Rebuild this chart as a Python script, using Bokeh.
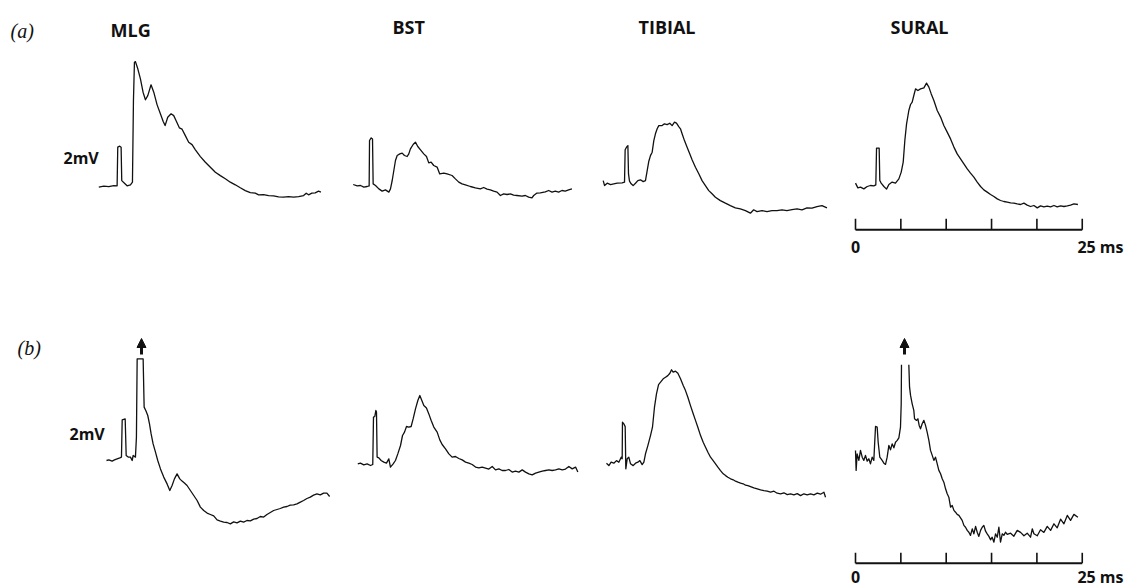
from bokeh.plotting import figure
from bokeh.layouts import column, row
from bokeh.models import Arrow, NormalHead
from bokeh.embed import file_html
from bokeh.resources import INLINE
from bokeh.core.properties import value

NAN = float("nan")

# ---------------- data (time in ms, potential in mV) ----------------
NERVES = ["MLG", "BST", "TIBIAL", "SURAL"]
ROW_LABELS = ["(a)", "(b)"]
CAL_LABEL = "2mV"
SCALE_TICKS_MS = [0, 5, 10, 15, 20, 25]
SCALE_TEXT = ["0", "25 ms"]

A_MLG = [(0, 0), (0.55, 0.05), (1.10, 0.03), (1.65, 0.08), (2.02, 0.07), (2.09, 2.0), (2.31, 2.05), (2.46, 2.0),
         (2.53, 0.33), (2.83, 0.2), (3.12, 0.07), (3.49, 0.12), (3.71, 0.25), (3.82, 4.33), (3.93, 6.25), (4.04, 6.28),
         (4.30, 5.92), (4.59, 5.42), (4.88, 4.75), (5.14, 4.37), (5.40, 4.58), (5.76, 5.12), (6.06, 4.75), (6.42, 4.13),
         (6.79, 3.67), (7.09, 3.30), (7.31, 3.08), (7.60, 3.5), (7.97, 3.67), (8.26, 3.58), (8.55, 3.30), (8.88, 2.97),
         (9.18, 2.9), (9.54, 2.58), (9.91, 2.25), (10.28, 2.13), (10.65, 1.87), (11.20, 1.53), (11.75, 1.25),
         (12.30, 1.0), (12.85, 0.75), (13.40, 0.58), (13.95, 0.42), (14.50, 0.25), (15.05, 0.12), (15.60, -0.03),
         (16.15, -0.17), (16.70, -0.27), (17.25, -0.30), (17.62, -0.38), (18.17, -0.37), (18.72, -0.42),
         (19.27, -0.43), (19.82, -0.48), (20.37, -0.5), (20.92, -0.47), (21.48, -0.5), (22.03, -0.47),
         (22.58, -0.42), (22.87, -0.30), (23.13, -0.38), (23.49, -0.30), (23.86, -0.28), (24.23, -0.2), (24.49, -0.25)]

A_BST = [(0, 0.05), (0.44, -0.02), (0.81, 0), (1.17, -0.08), (1.54, -0.05), (1.76, -0.02), (1.80, 2.25), (1.98, 2.38),
         (2.13, 2.33), (2.20, 0.08), (2.46, 0), (2.83, -0.17), (3.19, -0.28), (3.56, -0.22), (3.93, -0.33),
         (4.11, -0.17), (4.30, 0.25), (4.48, 0.75), (4.66, 1.25), (4.85, 1.5), (5.14, 1.58), (5.40, 1.62),
         (5.65, 1.5), (5.95, 1.45), (6.13, 1.58), (6.31, 1.83), (6.61, 2.05), (6.86, 2.17), (7.12, 1.95),
         (7.42, 1.78), (7.78, 1.58), (8.08, 1.45), (8.33, 1.13), (8.59, 1.17), (8.88, 1.0), (9.25, 0.92),
         (9.54, 0.58), (9.99, 0.62), (10.35, 0.58), (10.90, 0.5), (11.27, 0.33), (11.64, 0.17), (12.00, 0.08),
         (12.37, 0.03), (12.92, -0.05), (13.47, -0.12), (14.02, -0.17), (14.39, -0.1), (14.76, -0.18),
         (15.12, -0.22), (15.49, -0.28), (15.86, -0.33), (16.23, -0.5), (16.59, -0.42), (16.96, -0.45),
         (17.33, -0.42), (17.69, -0.48), (18.06, -0.5), (18.61, -0.53), (18.98, -0.5), (19.35, -0.58),
         (19.71, -0.62), (19.90, -0.5), (20.26, -0.38), (20.63, -0.37), (21.18, -0.32), (21.55, -0.25),
         (21.92, -0.33), (22.28, -0.28), (22.65, -0.33), (23.02, -0.25), (23.38, -0.28), (23.75, -0.22),
         (24.12, -0.17)]

A_TIB = [(0, 0.13), (0.15, -0.12), (0.44, 0), (0.81, -0.07), (1.17, -0.03), (1.54, 0), (2.09, 0.02), (2.35, 0.05),
         (2.42, 1.67), (2.57, 1.8), (2.72, 1.88), (2.79, 0.47), (2.90, 0.1), (3.08, -0.03), (3.30, -0.12), (3.56, 0),
         (3.82, 0.13), (4.11, 0.17), (4.41, 0.08), (4.66, 0.13), (4.85, 0.63), (5.03, 1.1), (5.21, 1.38),
         (5.40, 1.55), (5.58, 2.13), (5.76, 2.47), (5.95, 2.72), (6.13, 2.88), (6.50, 2.88), (6.75, 2.97),
         (7.05, 2.93), (7.34, 3.0), (7.60, 2.88), (7.86, 3.05), (8.08, 3.0), (8.33, 2.83), (8.52, 2.72),
         (8.70, 2.47), (8.96, 2.13), (9.25, 1.8), (9.54, 1.47), (9.80, 1.17), (10.17, 0.8), (10.54, 0.47),
         (10.90, 0.13), (11.27, -0.12), (11.64, -0.37), (12.00, -0.53), (12.37, -0.7), (12.92, -0.87),
         (13.47, -1.0), (14.02, -1.12), (14.57, -1.23), (15.12, -1.28), (15.68, -1.37), (16.23, -1.5),
         (16.59, -1.33), (16.96, -1.42), (17.51, -1.37), (18.06, -1.42), (18.61, -1.37), (19.16, -1.37),
         (19.71, -1.33), (20.26, -1.37), (20.81, -1.32), (21.37, -1.28), (21.92, -1.33), (22.47, -1.23),
         (23.02, -1.25), (23.57, -1.17), (24.12, -1.12), (24.67, -1.23)]

A_SUR = [(0, 0.12), (0.26, -0.12), (0.55, -0.08), (0.92, -0.17), (1.29, -0.05), (1.65, 0), (2.02, -0.02),
         (2.24, 0.03), (2.32, 1.87), (2.61, 1.87), (2.68, 0.25), (2.83, 0.12), (3.13, -0.05), (3.42, -0.18),
         (3.68, 0.05), (4.04, 0.17), (4.41, 0.12), (4.78, 0.33), (5.04, 0.67), (5.26, 1.17), (5.44, 2.25),
         (5.63, 3.08), (5.88, 3.75), (6.07, 4.05), (6.25, 4.17), (6.43, 4.5), (6.62, 4.83), (6.88, 4.75),
         (7.17, 4.83), (7.54, 4.88), (7.83, 5.12), (8.09, 4.92), (8.35, 4.58), (8.64, 4.25), (9.01, 3.75),
         (9.38, 3.42), (9.74, 3.0), (10.11, 2.67), (10.48, 2.33), (10.85, 1.92), (11.21, 1.58), (11.58, 1.33),
         (11.95, 1.08), (12.32, 0.83), (12.68, 0.62), (13.05, 0.42), (13.42, 0.17), (13.79, -0.05),
         (14.15, -0.22), (14.52, -0.33), (14.89, -0.45), (15.26, -0.55), (15.63, -0.67), (15.99, -0.75),
         (16.36, -0.8), (16.73, -0.83), (17.10, -0.87), (17.46, -0.88), (17.83, -0.92), (18.20, -0.95),
         (18.57, -0.88), (18.93, -0.98), (19.30, -1.05), (19.67, -1.0), (20.04, -1.12), (20.40, -1.02),
         (20.77, -1.07), (21.14, -1.03), (21.51, -1.07), (21.88, -1.0), (22.24, -1.07), (22.61, -1.02),
         (22.98, -1.05), (23.35, -1.02), (23.71, -0.98), (24.08, -0.92), (24.52, -0.95)]

B_MLG = [(0, 0), (0.26, 0.03), (0.62, -0.03), (0.88, 0.03), (1.17, 0.08), (1.47, 0.13), (1.65, 0.17), (1.73, 2.03),
         (2.06, 2.08), (2.17, 0.25), (2.39, 0.17), (2.64, 0.17), (2.83, 0), (2.94, 0.25), (3.19, 0.17), (3.30, 1.17),
         (3.38, 5.08), (4.04, 5.08), (4.15, 2.67), (4.33, 2.5), (4.55, 2.25), (4.74, 1.83), (4.92, 1.33),
         (5.14, 0.83), (5.40, 0.42), (5.65, 0), (5.95, -0.42), (6.31, -0.83), (6.68, -1.17), (6.98, -1.5),
         (7.23, -1.25), (7.49, -0.92), (7.78, -0.67), (8.08, -0.92), (8.33, -1.03), (8.59, -1.13), (8.88, -1.25),
         (9.25, -1.5), (9.62, -1.75), (9.99, -2.0), (10.35, -2.33), (10.72, -2.5), (11.09, -2.63), (11.45, -2.7),
         (11.82, -2.77), (12.19, -2.97), (12.56, -3.03), (12.92, -3.08), (13.29, -3.1), (13.66, -3.17),
         (14.02, -3.07), (14.39, -3.12), (14.76, -3.03), (15.12, -3.08), (15.49, -3.0), (15.86, -3.02),
         (16.23, -2.93), (16.59, -2.9), (16.96, -2.8), (17.33, -2.83), (17.69, -2.7), (18.06, -2.6),
         (18.43, -2.5), (18.80, -2.45), (19.16, -2.4), (19.53, -2.33), (19.90, -2.3), (20.26, -2.23),
         (20.63, -2.22), (21.00, -2.17), (21.37, -2.08), (21.73, -2.0), (22.10, -1.9), (22.47, -1.83),
         (22.83, -1.73), (23.20, -1.67), (23.57, -1.72), (23.94, -1.63), (24.30, -1.63), (24.60, -1.8)]

B_BST = [(0, 0.03), (0.29, 0.07), (0.66, -0.02), (1.03, 0.03), (1.40, -0.05), (1.65, 0), (1.73, 2.37), (1.87, 2.4),
         (1.99, 2.7), (2.06, 2.62), (2.13, 0.37), (2.32, 0.33), (2.57, 0.2), (2.87, 0.12), (3.16, 0.07),
         (3.42, 0.28), (3.60, -0.13), (3.90, 0.03), (4.15, 0.2), (4.41, 0.53), (4.71, 0.95), (4.93, 1.45),
         (5.15, 1.62), (5.37, 1.9), (5.62, 1.87), (5.88, 1.9), (6.10, 2.28), (6.36, 2.78), (6.62, 3.2), (6.84, 3.45),
         (7.06, 3.2), (7.28, 2.95), (7.57, 2.83), (7.83, 2.53), (8.09, 2.2), (8.38, 1.87), (8.75, 1.62),
         (9.04, 1.23), (9.30, 1.0), (9.67, 0.78), (10.04, 0.53), (10.40, 0.37), (10.77, 0.4), (11.14, 0.3),
         (11.51, 0.23), (11.88, 0.12), (12.24, 0.07), (12.61, 0), (12.98, -0.13), (13.35, -0.17), (13.71, -0.13),
         (14.08, -0.18), (14.45, -0.23), (14.82, -0.1), (15.18, -0.27), (15.55, -0.22), (15.92, -0.3),
         (16.29, -0.3), (16.65, -0.25), (17.02, -0.38), (17.39, -0.33), (17.76, -0.38), (18.13, -0.27),
         (18.49, -0.38), (18.86, -0.47), (19.23, -0.52), (19.60, -0.43), (19.96, -0.38), (20.33, -0.33),
         (20.70, -0.3), (21.07, -0.27), (21.43, -0.3), (21.80, -0.27), (22.17, -0.22), (22.54, -0.27),
         (22.90, -0.23), (23.27, -0.1), (23.64, -0.22), (24.01, -0.13), (24.26, -0.38)]

B_TIB = [(0, 0), (0.26, -0.12), (0.51, 0.05), (0.81, 0), (1.10, 0.13), (1.36, 0.05), (1.62, 0.3), (1.73, 0.22),
         (1.76, 2.05), (1.91, 1.97), (2.06, 1.83), (2.13, -0.28), (2.28, 0.22), (2.46, 0.3), (2.65, -0.03),
         (2.94, -0.12), (3.20, 0), (3.46, 0.05), (3.68, 0.13), (3.93, -0.07), (4.12, 0.05), (4.30, 0.47),
         (4.56, 0.88), (4.85, 1.38), (5.07, 1.8), (5.29, 2.8), (5.51, 3.47), (5.74, 3.93), (5.96, 4.05),
         (6.25, 4.22), (6.51, 4.3), (6.76, 4.38), (6.99, 4.5), (7.17, 4.67), (7.35, 4.55), (7.61, 4.6),
         (7.87, 4.5), (8.16, 4.22), (8.46, 3.88), (8.71, 3.63), (8.97, 3.3), (9.26, 2.88), (9.56, 2.47),
         (9.82, 2.13), (10.07, 1.8), (10.37, 1.38), (10.66, 1.05), (10.92, 0.8), (11.18, 0.55), (11.47, 0.3),
         (11.76, 0.13), (12.02, -0.03), (12.28, -0.2), (12.57, -0.37), (12.87, -0.53), (13.13, -0.62),
         (13.38, -0.7), (13.68, -0.78), (13.97, -0.83), (14.23, -0.9), (14.49, -0.95), (14.78, -1.0),
         (15.07, -1.03), (15.33, -1.1), (15.59, -1.12), (15.88, -1.17), (16.25, -1.23), (16.62, -1.28),
         (16.99, -1.33), (17.35, -1.37), (17.72, -1.4), (18.09, -1.45), (18.46, -1.4), (18.82, -1.5),
         (19.19, -1.53), (19.56, -1.48), (19.93, -1.57), (20.29, -1.53), (20.66, -1.58), (21.03, -1.52),
         (21.40, -1.62), (21.76, -1.53), (22.13, -1.58), (22.50, -1.53), (22.87, -1.58), (23.24, -1.5),
         (23.60, -1.55), (23.97, -1.45), (24.15, -1.7)]

B_SUR = [(0, 0.42), (0.07, -0.58), (0.18, 0.25), (0.37, -0.08), (0.55, 0.42), (0.74, 0.08), (0.92, -0.08),
         (1.10, 0.17), (1.29, -0.12), (1.47, 0), (1.65, -0.25), (1.84, 0.08), (2.02, -0.08), (2.13, 0.92),
         (2.21, 1.62), (2.39, 1.58), (2.50, 0.83), (2.68, 0.08), (2.94, -0.08), (3.13, -0.22), (3.31, -0.28),
         (3.49, 0.08), (3.68, 0.67), (3.86, 0.45), (4.04, 0.75), (4.23, 0.55), (4.41, 0.83), (4.60, 0.92),
         (4.78, 1.05), (4.96, 1.58), (5.04, 2.75), (5.07, 4.7), (5.5, NAN), (5.88, 4.7), (5.96, 3.58),
         (6.07, 3.17), (6.25, 2.75), (6.43, 2.42), (6.51, 2.0), (6.73, 1.92), (6.88, 2.0), (7.02, 1.67),
         (7.17, 1.5), (7.35, 1.75), (7.54, 1.92), (7.72, 1.67), (7.90, 1.33), (8.09, 0.92), (8.27, 0.42),
         (8.46, 0.17), (8.64, -0.08), (8.82, 0.08), (9.01, -0.25), (9.19, -0.58), (9.38, -0.75), (9.56, -1.0),
         (9.74, -1.17), (9.93, -1.5), (10.11, -1.75), (10.29, -1.92), (10.48, -2.42), (10.66, -2.33),
         (10.85, -2.58), (11.03, -2.67), (11.21, -2.78), (11.40, -2.83), (11.58, -2.95), (11.76, -3.08),
         (11.95, -3.33), (12.13, -3.42), (12.32, -3.58), (12.50, -3.67), (12.68, -3.83), (12.87, -3.5),
         (13.05, -3.75), (13.24, -3.38), (13.42, -3.67), (13.60, -3.88), (13.79, -3.58), (13.97, -3.42),
         (14.15, -3.33), (14.34, -3.62), (14.52, -3.75), (14.71, -3.88), (14.89, -4.05), (15.07, -3.92),
         (15.26, -4.17), (15.44, -3.75), (15.63, -3.92), (15.81, -3.42), (15.99, -4.17), (16.18, -3.75),
         (16.36, -3.83), (16.54, -3.67), (16.73, -3.78), (17.10, -3.72), (17.46, -3.87), (17.83, -3.58),
         (18.20, -3.68), (18.57, -3.85), (18.93, -3.72), (19.30, -3.92), (19.49, -3.5), (19.67, -3.75),
         (20.04, -3.85), (20.40, -3.55), (20.77, -3.68), (21.14, -3.38), (21.51, -3.58), (21.88, -3.25),
         (22.24, -3.45), (22.61, -3.02), (22.98, -3.25), (23.35, -2.83), (23.71, -3.08), (24.08, -2.78),
         (24.52, -2.92)]

TRACES = [[A_MLG, A_BST, A_TIB, A_SUR], [B_MLG, B_BST, B_TIB, B_SUR]]

# ---------------- layout / style (page pixels) ----------------
PX_PER_MS = 9.07
PX_PER_MV = 20.0
COL_LEFT = [0, 340, 592, 844]
COL_W = [340, 252, 252, 281]
ROW_TOP = [0, 300]
ROW_H = [300, 287]
ORIGIN_X = [[98.3, 352.7, 602.7, 855.0], [106.0, 357.3, 606.0, 855.0]]
ORIGIN_Y = [[186.7, 185.0, 182.7, 185.0], [460.0, 464.0, 462.7, 458.3]]
INK = "#111111"
HEAD_FONT = value("Open Sans")


def make_panel(r, c):
    left, top, w, h = COL_LEFT[c], ROW_TOP[r], COL_W[c], ROW_H[r]
    x0, y0 = ORIGIN_X[r][c], ORIGIN_Y[r][c]
    xs = -(x0 - left) / PX_PER_MS
    ye = (y0 - top) / PX_PER_MV
    p = figure(width=w, height=h, x_range=(xs, xs + w / PX_PER_MS), y_range=(ye - h / PX_PER_MV, ye),
               output_backend="svg", toolbar_location=None, x_axis_type=None, y_axis_type=None,
               min_border=0, outline_line_color=None, background_fill_color="white",
               border_fill_color="white")
    p.grid.visible = False

    def fx(px):
        return (px - x0) / PX_PER_MS

    def fy(py):
        return (y0 - py) / PX_PER_MV

    pts = TRACES[r][c]
    p.line([q[0] for q in pts], [q[1] for q in pts], line_color=INK, line_width=1.3, line_join="round")
    return p, fx, fy


panels = [[None] * 4 for _ in range(2)]
for r in range(2):
    for c in range(4):
        p, fx, fy = make_panel(r, c)
        panels[r][c] = p
        if r == 0:
            hx = [110, 392, 638, 890][c]
            hy = [29, 26, 26, 26][c]
            p.text(x=[fx(hx)], y=[fy(hy)], text=[NERVES[c]], text_font=HEAD_FONT, text_font_size="18px",
                   text_font_style="bold", text_color=INK, text_baseline="middle", text_align="left")
        if c == 0:
            lx, ly = [(10, 30), (17, 347)][r]
            p.text(x=[fx(lx)], y=[fy(ly)], text=[ROW_LABELS[r]], text_font=value("Liberation Serif"),
                   text_font_size="20px", text_font_style="italic", text_color=INK, text_baseline="middle",
                   text_align="left")
            cx, cy = [(63, 157.5), (69, 433)][r]
            p.text(x=[fx(cx)], y=[fy(cy)], text=[CAL_LABEL], text_font=HEAD_FONT, text_font_size="16px",
                   text_font_style="bold", text_color=INK, text_baseline="middle", text_align="left")
        if c == 3:
            bar_y, tick_top, lab_y = [(229.3, 218.3, 246), (562.7, 552.3, 576)][r]
            p.line([SCALE_TICKS_MS[0], SCALE_TICKS_MS[-1]], [fy(bar_y)] * 2, line_color=INK, line_width=2)
            p.segment(x0=SCALE_TICKS_MS, y0=[fy(bar_y)] * len(SCALE_TICKS_MS), x1=SCALE_TICKS_MS,
                      y1=[fy(tick_top)] * len(SCALE_TICKS_MS), line_color=INK, line_width=1.6)
            p.text(x=[SCALE_TICKS_MS[0]], y=[fy(lab_y)], text=[SCALE_TEXT[0]], text_font=HEAD_FONT,
                   text_font_size="16px", text_font_style="bold", text_color=INK, text_baseline="middle",
                   text_align="center")
            p.text(x=[fx(1123)], y=[fy(lab_y)], text=[SCALE_TEXT[1]], text_font=HEAD_FONT,
                   text_font_size="16px", text_font_style="bold", text_color=INK, text_baseline="middle",
                   text_align="right")

# arrows marking truncated peaks in row (b)
for c, ax in [(0, 141), (3, 904)]:
    p = panels[1][c]
    x0, y0 = ORIGIN_X[1][c], ORIGIN_Y[1][c]
    xa = (ax - x0) / PX_PER_MS
    p.add_layout(Arrow(end=NormalHead(size=9, fill_color=INK, line_color=INK),
                       x_start=xa, y_start=(y0 - 354) / PX_PER_MV, x_end=xa, y_end=(y0 - 338) / PX_PER_MV,
                       line_color=INK, line_width=3))

layout = column(row(*panels[0], spacing=0), row(*panels[1], spacing=0), spacing=0)
open("out.html", "w").write(file_html(layout, INLINE))
